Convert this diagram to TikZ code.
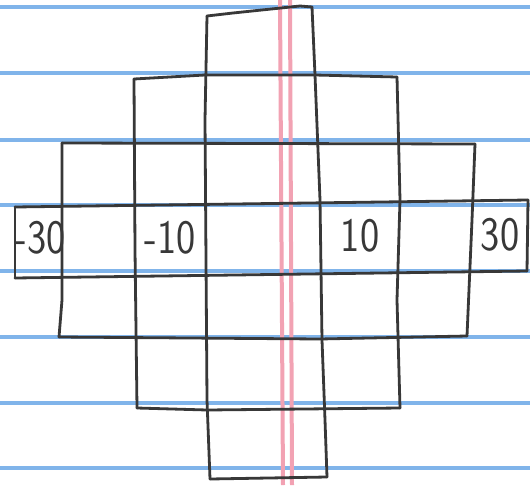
\documentclass[tikz,border=0pt]{standalone}
\usepackage{tikz}
\definecolor{padblue}{HTML}{80B4EA}
\definecolor{padred}{HTML}{F2A2B3}
\definecolor{pencil}{HTML}{383838}

\begin{document}
\begin{tikzpicture}[
  x=1pt, y=-1pt,
  rule/.style={padblue, line width=3.2pt},
  margin/.style={padred, line width=4pt},
  pen/.style={pencil, line width=2.8pt, line join=round, line cap=round},
  num/.style={font=\sffamily\fontsize{48}{48}\selectfont, text=pencil,
    inner sep=0pt, xscale=0.85},
]

  %% ---- Hoja ----
  \fill[white] (0,0) rectangle (530,485);
  \useasboundingbox (0,0) rectangle (530,485);

  %% ---- Renglones azules ----
  \foreach \y in {7,73,140,205,271,337,403,468}{
    \draw[rule] (0,\y) -- (530,\y);
  }

  %% ---- Margen rojo ----
  \draw[margin] (280,0) -- (283,485);
  \draw[margin] (290,0) -- (292,485);

  %% ---- Filas (horizontales) ----
  \draw[pen] (207,16) -- (233,13) -- (300,6) -- (312,7);
  \draw[pen] (134,79) -- (205,75) -- (315,75) -- (397,77);
  \draw[pen] (62,143) -- (475,144);
  \draw[pen] (15,207) -- (528,200);
  \draw[pen] (15,278) -- (527,271);
  \draw[pen] (59,337) -- (320,339) -- (467,336);
  \draw[pen] (137,408) -- (207,410) -- (400,408);
  \draw[pen] (210,479) -- (327,477);

  %% ---- Columnas (verticales) ----
  \draw[pen] (15,207) -- (15,278);
  \draw[pen] (62,143) -- (62,300) -- (59,337);
  \draw[pen] (134,79) -- (135,250) -- (137,408);
  \draw[pen] (207,16) -- (205,120) -- (207,400) -- (210,479);
  \draw[pen] (312,7) -- (315,75) -- (320,200) -- (322,340) -- (325,420) -- (327,477);
  \draw[pen] (397,77) -- (400,200) -- (397,300) -- (400,408);
  \draw[pen] (475,144) -- (472,220) -- (467,336);
  \draw[pen] (528,200) -- (527,271);

  %% ---- Numeros ----
  \node[num] (m30) at (40,238)  {-30};
  \node[num] (m10) at (170,238) {-10};
  \node[num] (p10) at (360,236) {10};
  \node[num] (p30) at (500,235) {30};

\end{tikzpicture}
\end{document}
